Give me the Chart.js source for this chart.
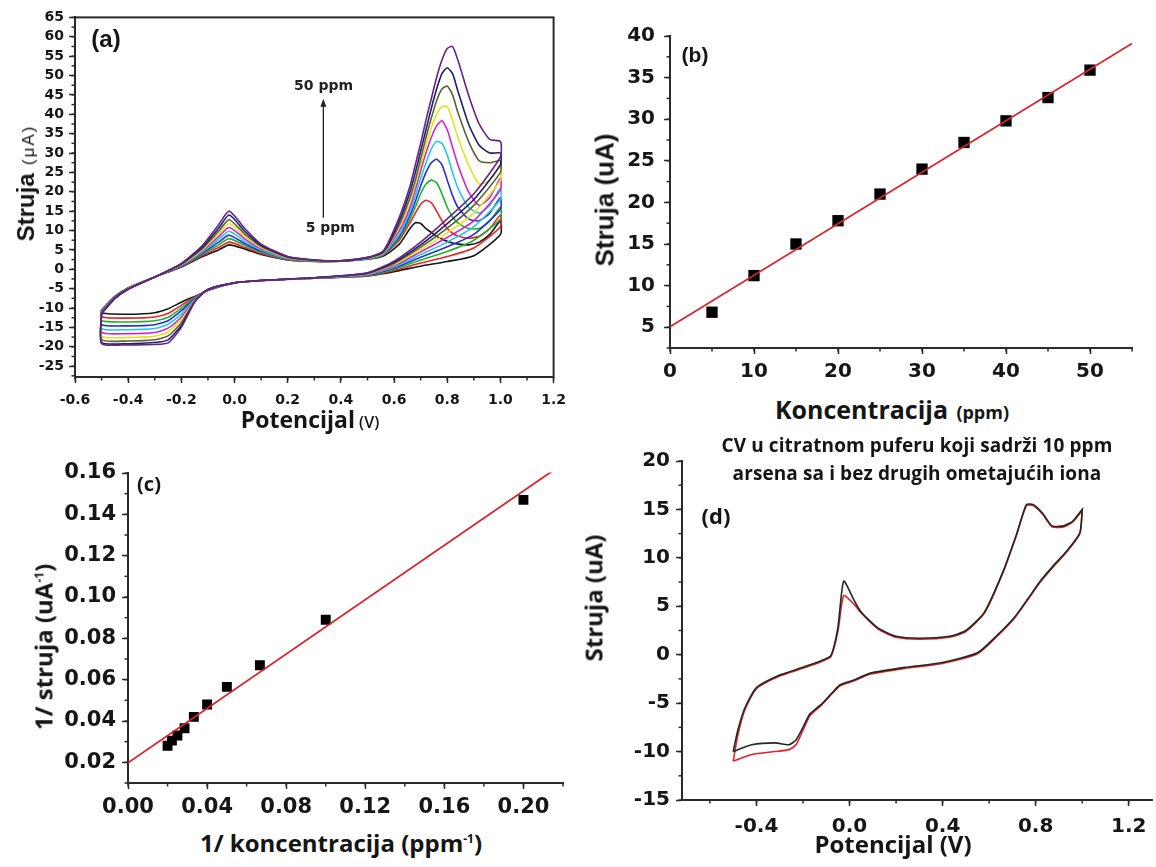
<!DOCTYPE html>
<html>
<head>
<meta charset="utf-8">
<script src="https://cdn.jsdelivr.net/npm/chart.js@4.4.1/dist/chart.umd.min.js"></script>
<style>
  body { margin: 0; width: 1156px; height: 867px; background: #fff; position: relative; overflow: hidden; }
  canvas { position: absolute; }
  .t { position: absolute; white-space: nowrap; color: #151515; font-family: "Open Sans", sans-serif; font-weight: 700; transform: translate(-50%, -50%); }
  .r { transform: translate(-50%, -50%) rotate(-90deg); }
  .t sup { font-size: 12px; vertical-align: 9px; line-height: 0; }
</style>
</head>
<body>
<canvas id="chartA" width="562" height="407" style="left:13px;top:4px"></canvas>
<canvas id="chartB" width="542" height="369" style="left:610px;top:15px"></canvas>
<canvas id="chartC" width="525" height="369" style="left:58px;top:454px"></canvas>
<canvas id="chartD" width="544" height="397" style="left:612px;top:443px"></canvas>

<!-- panel (a) text -->
<div class="t" style="left:106px;top:39px;font:700 24px 'Liberation Sans'">(a)</div>
<div class="t r" style="left:26px;top:183px"><span style="font:700 24px 'Liberation Sans'">Struja</span>&nbsp;&nbsp;<span style="font:400 17px 'Liberation Sans';letter-spacing:2px">(μA)</span></div>
<div class="t" style="left:310px;top:419px"><span style="font-size:23px">Potencijal</span> <span style="font-size:16px;font-weight:600">(V)</span></div>

<!-- panel (b) text -->
<div class="t" style="left:695px;top:55px;font:700 21px 'Liberation Sans'">(b)</div>
<div class="t r" style="left:605px;top:200px;font:700 26px 'Liberation Sans'">Struja (uA)</div>
<div class="t" style="left:892px;top:409px"><span style="font-size:25px">Koncentracija</span>&nbsp; <span style="font-size:18px">(ppm)</span></div>

<!-- panel (c) text -->
<div class="t" style="left:149px;top:483px;font-size:20px">(c)</div>
<div class="t r" style="left:43px;top:647px;font-size:24px">1/ struja (uA<sup>-1</sup>)</div>
<div class="t" style="left:341px;top:842px;font-size:24px">1/ koncentracija (ppm<sup>-1</sup>)</div>

<!-- panel (d) text -->
<div class="t" style="left:917px;top:445px;font-size:19px;letter-spacing:0.1px">CV u citratnom puferu koji sadrži 10 ppm</div>
<div class="t" style="left:917px;top:473px;font-size:19px;letter-spacing:0.1px">arsena sa i bez drugih ometajućih iona</div>
<div class="t" style="left:716px;top:515px;font-size:22px">(d)</div>
<div class="t r" style="left:593px;top:598px;font-size:24px">Struja (uA)</div>
<div class="t" style="left:893px;top:843px;font-size:24px">Potencijal (V)</div>

<script>
// ---------- (a) CV curves, 5 - 50 ppm ----------
var potAFwd = [-0.5, -0.45, -0.4, -0.3, -0.2, -0.12, -0.06, -0.02, 0.04, 0.1, 0.2, 0.3, 0.4, 0.5, 0.56, 0.62, 0.66, 0.68, 0.70, 0.72, 0.74, 0.76, 0.78, 0.80, 0.82, 0.84, 0.88, 0.92, 0.96, 1.0];
var potARev = [1.0, 0.9, 0.8, 0.7, 0.6, 0.5, 0.3, 0.1, 0.0, -0.1, -0.15, -0.2, -0.25, -0.3, -0.4, -0.5, -0.5];

var a5Fwd  = [-10.5, -7, -4.8, -2, 0.6, 3.3, 5, 6.3, 5.2, 3.8, 2.4, 2, 2.1, 2.6, 3.4, 6.5, 10.5, 12, 11.8, 10.5, 9.5, 8.5, 7.8, 7.2, 6.8, 6.5, 6.3, 7, 9, 12.5];
var a5Rev  = [9, 3.5, 2, 0.8, -0.6, -1.7, -2.3, -2.9, -3.5, -5.5, -7, -8.5, -10.2, -11.2, -11.6, -11.3, -10.5];
var a10Fwd = [-10.6, -7.1, -4.8, -2, 0.7, 3.6, 5.6, 7, 5.6, 4.1, 2.5, 2.1, 2.1, 2.7, 3.7, 7.5, 12, 14.5, 16.8, 17.8, 17.2, 15, 12.5, 10.5, 9.3, 8.6, 8, 8.5, 10.5, 14];
var a10Rev = [11, 5.5, 3.3, 1.6, -0.3, -1.7, -2.3, -2.9, -3.5, -5.4, -7.2, -9.3, -11.4, -12.3, -12.6, -12.3, -10.6];
var a15Fwd = [-10.7, -7.2, -4.9, -2, 0.8, 3.9, 6.3, 7.9, 6.1, 4.4, 2.6, 2.1, 2.1, 2.7, 3.8, 8, 13, 16, 19.5, 22, 23, 22.3, 19.5, 16, 13.5, 12, 10.5, 10.5, 12.5, 16];
var a15Rev = [13, 7.5, 4.6, 2.4, 0, -1.6, -2.3, -2.9, -3.5, -5.3, -7.4, -10, -12.4, -13.3, -13.6, -13.3, -10.7];
var a20Fwd = [-10.8, -7.2, -4.9, -2, 0.9, 4.2, 7, 8.8, 6.6, 4.7, 2.7, 2.2, 2.2, 2.8, 3.9, 8.5, 14, 17.5, 21.5, 25, 27.5, 28.4, 27, 23, 19, 16, 13, 12.5, 14.5, 18.5];
var a20Rev = [15.5, 9, 5.8, 3.1, 0.3, -1.5, -2.3, -2.9, -3.5, -5.3, -7.6, -10.7, -13.3, -14.3, -14.6, -14.3, -10.8];
var a25Fwd = [-10.9, -7.3, -5, -2, 1, 4.5, 7.7, 9.8, 7.2, 5, 2.8, 2.2, 2.2, 2.8, 4, 9, 15, 19, 23.5, 27.5, 31, 33, 32.5, 29.5, 25, 21, 16, 14.5, 16.5, 21];
var a25Rev = [18, 11, 7, 3.8, 0.6, -1.4, -2.3, -2.9, -3.5, -5.3, -7.8, -11.5, -14.2, -15.3, -15.6, -15.3, -10.9];
var a30Fwd = [-11, -7.3, -5, -2, 1.1, 4.8, 8.4, 10.8, 7.8, 5.3, 2.9, 2.3, 2.2, 2.9, 4.2, 10, 16, 20.5, 25.5, 30, 34, 37, 38.3, 36, 31.5, 27, 20, 16.5, 18.5, 23.5];
var a30Rev = [20.5, 12.5, 8.2, 4.5, 0.9, -1.3, -2.2, -2.9, -3.5, -5.2, -8, -12.3, -15.2, -16.3, -16.6, -16.3, -11];
var a35Fwd = [-11.1, -7.4, -5, -2, 1.2, 5.1, 9.1, 11.8, 8.4, 5.6, 3, 2.3, 2.2, 2.9, 4.3, 11, 17.5, 22, 27, 32, 36.5, 40, 42, 42, 38.5, 34, 27, 22, 23, 26.5];
var a35Rev = [23, 14.5, 9.4, 5.1, 1.2, -1.2, -2.2, -2.9, -3.5, -5.2, -8.2, -13, -16.2, -17.3, -17.6, -17.3, -11.1];
var a40Fwd = [-11.2, -7.4, -5.1, -2, 1.3, 5.4, 9.8, 12.8, 9, 5.9, 3.1, 2.3, 2.2, 3, 4.4, 11.5, 18.5, 23, 28.5, 34, 39, 43.5, 46.5, 47.3, 45, 40.5, 33, 28, 27.5, 28];
var a40Rev = [25, 16.5, 10.6, 5.7, 1.5, -1.1, -2.2, -2.9, -3.5, -5.2, -8.3, -13.8, -17.2, -18.2, -18.5, -18.2, -11.2];
var a45Fwd = [-11.3, -7.5, -5.1, -2, 1.4, 5.8, 10.6, 14, 9.7, 6.2, 3.2, 2.4, 2.2, 3, 4.6, 12.5, 20, 25, 30.5, 36, 41.5, 46.5, 50.5, 52, 50.5, 46, 37.5, 32, 30, 30];
var a45Rev = [27, 18, 11.8, 6.3, 1.8, -1, -2.2, -2.9, -3.5, -5.2, -8.4, -14.5, -18.2, -18.9, -19.2, -18.9, -11.3];
var a50Fwd = [-11.5, -7.6, -5.2, -2, 1.5, 6.2, 11.5, 15, 10.4, 6.5, 3.3, 2.4, 2.2, 3.1, 4.8, 13.5, 21.5, 27, 32.5, 38.5, 44, 49.5, 54, 57, 57.5, 54, 45, 37.5, 33.5, 33];
var a50Rev = [29, 19.5, 13, 7, 2.1, -0.9, -2.2, -2.9, -3.5, -5.2, -8.5, -15, -19, -19.4, -19.5, -19.2, -11.5];

var seriesA = ['5 ppm', '10 ppm', '15 ppm', '20 ppm', '25 ppm', '30 ppm', '35 ppm', '40 ppm', '45 ppm', '50 ppm'];
var colorsA = ['#151515', '#e8262a', '#22b02a', '#2233d0', '#25c8e8', '#d624c8', '#e2e21e', '#5d6230', '#1d1f72', '#6a2283'];

// ---------- (b) calibration ----------
var concB = [5, 10, 15, 20, 25, 30, 35, 40, 45, 50];
var currB = [6.8, 11.2, 15, 17.8, 21, 24, 27.2, 29.8, 32.6, 35.9];
var fitBx = [0, 55];
var fitBy = [5.05, 39.1];

// ---------- (c) double reciprocal ----------
var invConcC = [0.02, 0.0222, 0.025, 0.0286, 0.0333, 0.04, 0.05, 0.0667, 0.1, 0.2];
var invCurrC = [0.028, 0.0305, 0.033, 0.0365, 0.042, 0.048, 0.0565, 0.067, 0.089, 0.147];
var fitCx = [0, 0.215];
var fitCy = [0.0198, 0.1612];

// ---------- (d) CV with / without interferents ----------
var potDFwd = [-0.5, -0.48, -0.45, -0.4, -0.3, -0.2, -0.12, -0.08, -0.05, -0.025, 0.02, 0.05, 0.12, 0.2, 0.3, 0.43, 0.5, 0.58, 0.66, 0.72, 0.76, 0.79, 0.83, 0.87, 0.92, 0.96, 1.0];
var potDRev = [1.0, 0.99, 0.93, 0.88, 0.82, 0.77, 0.71, 0.63, 0.55, 0.4, 0.24, 0.09, 0.02, -0.04, -0.07, -0.12, -0.17, -0.2, -0.23, -0.26, -0.32, -0.42, -0.5];
var blackDFwd = [-10, -7.8, -5.5, -3.4, -2.1, -1.3, -0.6, -0.1, 2.8, 7.6, 5.6, 4.4, 2.8, 1.9, 1.7, 1.9, 2.5, 4.4, 8.6, 12.6, 15.5, 15.5, 14.6, 13.3, 13.3, 13.8, 15];
var blackDRev = [15, 12.6, 10.6, 9.3, 7.6, 5.9, 3.9, 1.9, 0.2, -0.8, -1.3, -1.9, -2.6, -3.1, -3.8, -5.1, -6.1, -7.5, -8.8, -9.3, -9.1, -9.3, -10];
var redDFwd = [-11, -8.3, -5.7, -3.5, -2.2, -1.4, -0.7, -0.2, 2.4, 6.1, 5.2, 4.3, 2.7, 1.8, 1.6, 1.8, 2.4, 4.3, 8.5, 12.5, 15.4, 15.4, 14.5, 13.2, 13.2, 13.7, 14.9];
var redDRev = [14.9, 12.5, 10.5, 9.2, 7.5, 5.8, 3.8, 1.8, 0.1, -0.9, -1.4, -2, -2.7, -3.2, -3.9, -5.2, -6.3, -7.8, -9.3, -9.8, -10, -10.3, -11];

// arrow annotation in (a)
var arrowX = 0.334;
var arrowY = [13.3, 44];
var notesA = [['50 ppm', 0.335, 47.2], ['5 ppm', 0.36, 10.6]];

function xy(xs, ys) {
  return xs.map(function (x, i) { return { x: x, y: ys[i] }; });
}
function loop(fx, rx, fy, ry) {
  return xy(fx.concat(rx), fy.concat(ry));
}

var minorTicks = {
  id: 'minorTicks',
  afterDraw: function (chart, args, o) {
    var ctx = chart.ctx;
    ctx.save();
    ctx.strokeStyle = '#2a2a2a';
    ctx.lineWidth = 1.5;
    ['x', 'y'].forEach(function (id) {
      var s = chart.scales[id], step = o[id];
      if (!step) return;
      for (var v = Math.ceil(s.min / step - 1e-6) * step; v <= s.max + 1e-9; v += step) {
        var p = s.getPixelForValue(v);
        ctx.beginPath();
        if (id === 'x') { ctx.moveTo(p, s.top); ctx.lineTo(p, s.top + o.len); }
        else { ctx.moveTo(s.right, p); ctx.lineTo(s.right - o.len, p); }
        ctx.stroke();
      }
    });
    ctx.restore();
  }
};

var frame = {
  id: 'frame',
  afterDraw: function (chart) {
    var a = chart.chartArea, ctx = chart.ctx;
    ctx.save();
    ctx.strokeStyle = '#2a2a2a';
    ctx.lineWidth = 2;
    ctx.strokeRect(a.left, a.top, a.right - a.left, a.bottom - a.top);
    ctx.restore();
  }
};

var arrowNote = {
  id: 'arrowNote',
  afterDatasetsDraw: function (chart) {
    var x = chart.scales.x, y = chart.scales.y, ctx = chart.ctx;
    var px = x.getPixelForValue(arrowX);
    var y0 = y.getPixelForValue(arrowY[0]), y1 = y.getPixelForValue(arrowY[1]);
    ctx.save();
    ctx.strokeStyle = '#222';
    ctx.fillStyle = '#222';
    ctx.lineWidth = 1.3;
    ctx.beginPath(); ctx.moveTo(px, y0); ctx.lineTo(px, y1 + 6); ctx.stroke();
    ctx.beginPath(); ctx.moveTo(px, y1); ctx.lineTo(px - 3, y1 + 8); ctx.lineTo(px + 3, y1 + 8); ctx.closePath(); ctx.fill();
    ctx.font = 'bold 14px "DejaVu Sans"';
    ctx.textAlign = 'center';
    ctx.textBaseline = 'middle';
    notesA.forEach(function (n) {
      ctx.fillText(n[0], x.getPixelForValue(n[1]), y.getPixelForValue(n[2]));
    });
    ctx.restore();
  }
};

function axis(dir, min, max, step, digits, size, pad, fit) {
  return {
    type: 'linear',
    position: dir === 'x' ? 'bottom' : 'left',
    min: min,
    max: max,
    border: { display: true, color: '#2a2a2a', width: 2 },
    grid: { display: true, drawOnChartArea: false, drawTicks: true, tickLength: 6, tickWidth: 1.5, tickColor: '#2a2a2a' },
    ticks: {
      stepSize: step,
      includeBounds: false,
      autoSkip: false,
      maxRotation: 0,
      padding: pad,
      color: '#161616',
      font: { family: 'DejaVu Sans', weight: 'bold', size: size },
      callback: function (v) { return Number(v).toFixed(digits); }
    },
    afterFit: function (s) { if (dir === 'x') s.height = fit; else s.width = fit; }
  };
}

function baseOptions(pad, minor, scales) {
  return {
    responsive: false,
    animation: false,
    events: [],
    layout: { padding: pad },
    elements: { point: { radius: 0 }, line: { borderWidth: 1.5 } },
    plugins: { legend: { display: false }, tooltip: { enabled: false }, minorTicks: minor },
    scales: scales
  };
}

// (a)
var fwdA = [a5Fwd, a10Fwd, a15Fwd, a20Fwd, a25Fwd, a30Fwd, a35Fwd, a40Fwd, a45Fwd, a50Fwd];
var revA = [a5Rev, a10Rev, a15Rev, a20Rev, a25Rev, a30Rev, a35Rev, a40Rev, a45Rev, a50Rev];
new Chart(document.getElementById('chartA'), {
  type: 'scatter',
  data: {
    datasets: seriesA.map(function (name, i) {
      return {
        label: name,
        data: loop(potAFwd, potARev, fwdA[i], revA[i]),
        showLine: true,
        borderColor: colorsA[i],
        borderWidth: 1.6,
        tension: 0.2,
        order: 10 - i
      };
    })
  },
  options: baseOptions({ left: 0, top: 12, right: 16, bottom: 0 }, { x: 0.1, y: 2.5, len: 3.5 }, {
    x: axis('x', -0.6, 1.2, 0.2, 1, 14, 9, 34),
    y: axis('y', -27.8, 65, 5, 0, 14, 5, 62)
  }),
  plugins: [minorTicks, frame, arrowNote]
});

// (b)
new Chart(document.getElementById('chartB'), {
  type: 'scatter',
  data: {
    datasets: [
      { label: 'fit', data: xy(fitBx, fitBy), showLine: true, borderColor: '#d3262e', borderWidth: 1.8, pointRadius: 0 },
      { label: 'Struja', data: xy(concB, currB), pointStyle: 'rect', pointRadius: 8, backgroundColor: '#000', borderColor: '#000', borderWidth: 0 }
    ]
  },
  options: baseOptions({ left: 0, top: 14, right: 20, bottom: 0 }, { x: 5, y: 2.5, len: 3.5 }, {
    x: axis('x', 0, 55, 10, 0, 20, 6, 36),
    y: axis('y', 2.5, 40, 5, 0, 20, 9, 60)
  }),
  plugins: [minorTicks]
});

// (c)
new Chart(document.getElementById('chartC'), {
  type: 'scatter',
  data: {
    datasets: [
      { label: 'fit', data: xy(fitCx, fitCy), showLine: true, borderColor: '#d3262e', borderWidth: 1.8, pointRadius: 0 },
      { label: '1/struja', data: xy(invConcC, invCurrC), pointStyle: 'rect', pointRadius: 7, backgroundColor: '#000', borderColor: '#000', borderWidth: 0 }
    ]
  },
  options: baseOptions({ left: 0, top: 14, right: 20, bottom: 0 }, { x: 0.02, y: 0.01, len: 3.5 }, {
    x: axis('x', 0, 0.22, 0.04, 2, 21, 6, 40),
    y: axis('y', 0.01, 0.1602, 0.02, 2, 21, 6, 70)
  }),
  plugins: [minorTicks]
});

// (d)
new Chart(document.getElementById('chartD'), {
  type: 'scatter',
  data: {
    datasets: [
      { label: 'bez ometajućih iona', data: loop(potDFwd, potDRev, blackDFwd, blackDRev), showLine: true, borderColor: '#1e2a22', borderWidth: 1.6, tension: 0.2 },
      { label: 'sa ometajućim ionima', data: loop(potDFwd, potDRev, redDFwd, redDRev), showLine: true, borderColor: '#e4222c', borderWidth: 1.6, tension: 0.2 }
    ]
  },
  options: baseOptions({ left: 0, top: 12, right: 4, bottom: 0 }, { x: 0.2, y: 2.5, len: 3.5 }, {
    x: axis('x', -0.72, 1.3, 0.4, 1, 20, 9, 40),
    y: axis('y', -15, 20, 5, 0, 20, 6, 70)
  }),
  plugins: [minorTicks]
});
</script>
</body>
</html>
